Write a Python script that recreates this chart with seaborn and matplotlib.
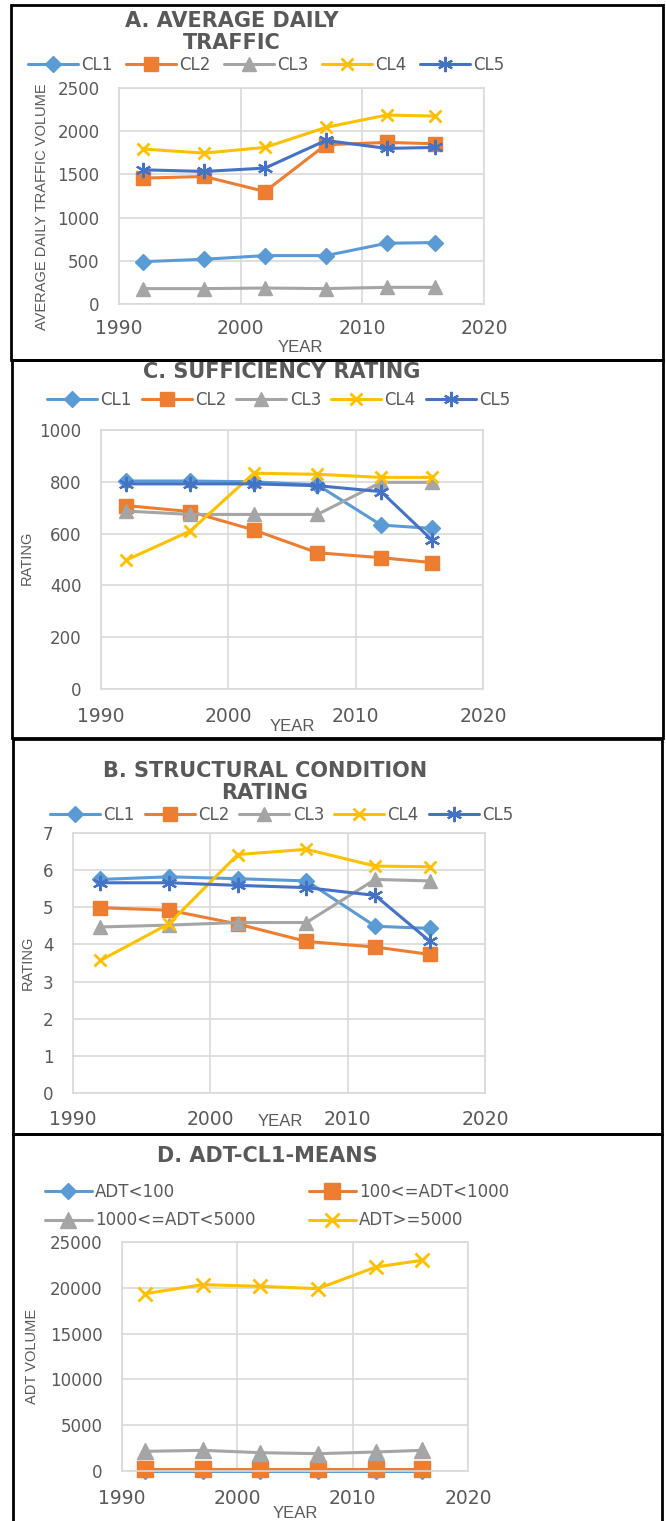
import matplotlib
matplotlib.use("Agg")
import matplotlib.pyplot as plt
from matplotlib import font_manager
from matplotlib.patches import Rectangle
import pandas as pd
import seaborn as sns

# ---------------------------------------------------------------- data
years = [1992, 1997, 2002, 2007, 2012, 2016]
classes = ["CL1", "CL2", "CL3", "CL4", "CL5"]

# A. average daily traffic by class
adt_cl1 = [490, 518, 560, 560, 703, 711]
adt_cl2 = [1457, 1476, 1302, 1843, 1870, 1855]
adt_cl3 = [178, 178, 185, 178, 193, 193]
adt_cl4 = [1793, 1747, 1812, 2044, 2187, 2175]
adt_cl5 = [1553, 1534, 1573, 1893, 1801, 1812]

# C. sufficiency rating by class
suff_cl1 = [803, 803, 800, 788, 633, 620]
suff_cl2 = [708, 685, 614, 526, 507, 488]
suff_cl3 = [687, 674, 674, 674, 798, 798]
suff_cl4 = [498, 610, 833, 829, 817, 817]
suff_cl5 = [792, 792, 792, 785, 762, 575]

# B. structural condition rating by class
struct_cl1 = [5.75, 5.82, 5.77, 5.71, 4.49, 4.43]
struct_cl2 = [4.99, 4.92, 4.55, 4.08, 3.93, 3.73]
struct_cl3 = [4.47, 4.52, 4.59, 4.59, 5.75, 5.71]
struct_cl4 = [3.57, 4.56, 6.42, 6.56, 6.11, 6.09]
struct_cl5 = [5.66, 5.66, 5.59, 5.53, 5.32, 4.08]

# D. CL1 mean ADT by traffic group
adt_groups = ["ADT<100", "100<=ADT<1000", "1000<=ADT<5000", "ADT>=5000"]
mean_lt100 = [40, 40, 40, 40, 40, 40]
mean_100_1000 = [230, 230, 230, 230, 230, 230]
mean_1000_5000 = [2147, 2256, 2001, 1892, 2074, 2256]
mean_ge5000 = [19359, 20342, 20160, 19905, 22271, 22998]

x_ticks = [1990, 2000, 2010, 2020]

# ---------------------------------------------------------------- style
W, H = 666, 1521
sns.set_theme(style="white")
plt.rcParams["font.family"] = ["DejaVu Sans"]

def has_font(name):
    try:
        font_manager.findfont(font_manager.FontProperties(family=name),
                              fallback_to_default=False)
        return True
    except Exception:
        return False

NARROW = "Liberation Sans Narrow" if has_font("Liberation Sans Narrow") else "Liberation Sans"
NARROW_SIZE = 11.5 if NARROW == "Liberation Sans Narrow" else 10.5

TXT = "#595959"
GRID = "#D9D9D9"
colors = ["#5B9BD5", "#ED7D31", "#A5A5A5", "#FFC000", "#4472C4"]
markers = ["D", "s", "^", "x", (6, 2, 0)]
msizes = [8, 10, 10, 9, 11]
mews = [1, 1, 1, 2, 1.6]

fig = plt.figure(figsize=(W / 100, H / 100), dpi=100)
fig.patch.set_facecolor("white")


def fig_xy(px, py):
    return px / W, 1 - py / H


def make_axes(left, top, right, bottom):
    return fig.add_axes([left / W, 1 - bottom / H, (right - left) / W, (bottom - top) / H])


def frame(left, top, right, bottom):
    fig.add_artist(Rectangle(fig_xy(left, bottom), (right - left) / W, (bottom - top) / H,
                             transform=fig.transFigure, fill=False, ec="black", lw=2.0,
                             zorder=10))


def style_axes(ax, ymax, ystep, ylabel, ylabel_xy, xlabel_xy, ypad, xpad):
    ax.set_xlim(1990, 2020)
    ax.set_ylim(0, ymax)
    ax.set_xticks(x_ticks)
    ax.set_xticklabels([str(t) for t in x_ticks])
    yt = [ystep * i for i in range(int(round(ymax / ystep)) + 1)]
    ax.set_yticks(yt)
    ax.set_yticklabels([f"{v:g}" for v in yt])
    ax.grid(True, color=GRID, lw=1.2)
    for s in ax.spines.values():
        s.set_color(GRID)
        s.set_linewidth(1.2)
    ax.tick_params(axis="both", length=0, colors=TXT, labelsize=12)
    ax.tick_params(axis="y", pad=ypad)
    ax.tick_params(axis="x", pad=xpad, labelsize=13.5)
    ax.set_ylabel(ylabel, family=NARROW, fontsize=NARROW_SIZE, color=TXT, va="center")
    ax.yaxis.set_label_coords(*fig_xy(*ylabel_xy), transform=fig.transFigure)
    ax.set_xlabel("YEAR", family=NARROW, fontsize=NARROW_SIZE + 1.5, color=TXT, va="center")
    ax.xaxis.set_label_coords(*fig_xy(*xlabel_xy), transform=fig.transFigure)
    ax.set_axisbelow(True)


def draw_series(ax, series_values, names, cols, mks, mss, mws, lw=2.2):
    for vals, name, c, m, ms, mw in zip(series_values, names, cols, mks, mss, mws):
        df = pd.DataFrame({"year": years, "value": vals})
        sns.lineplot(data=df, x="year", y="value", ax=ax, color=c, marker=m,
                     markersize=ms, markeredgewidth=mw, markeredgecolor=c,
                     linewidth=lw, label=name, legend=False, clip_on=False)


def title(ax, text, px, py):
    fig.text(*fig_xy(px, py), text, ha="center", va="center", fontsize=15,
             fontweight="bold", color=TXT, linespacing=1.15)


def legend(ax, px, py, ncol, colsp, labelsp=0.5, hl=3.0, order=None):
    h, l = ax.get_legend_handles_labels()
    if order is not None:
        h = [h[i] for i in order]
        l = [l[i] for i in order]
    ax.legend(h, l, loc="center left", bbox_to_anchor=fig_xy(px, py),
              bbox_transform=fig.transFigure, ncol=ncol, frameon=False,
              fontsize=12, handlelength=hl, handletextpad=0.2,
              columnspacing=colsp, labelspacing=labelsp, borderpad=0,
              borderaxespad=0, labelcolor=TXT)


# ---------------------------------------------------------------- panel A
frame(11, 5, 663, 360)
axA = make_axes(119, 88, 484, 304)
draw_series(axA, [adt_cl1, adt_cl2, adt_cl3, adt_cl4, adt_cl5], classes,
            colors, markers, msizes, mews)
style_axes(axA, 2500, 500, "AVERAGE DAILY TRAFFIC VOLUME", (42, 207), (300, 348), 14, 11)
title(axA, "A. AVERAGE DAILY\nTRAFFIC", 232, 32)
legend(axA, 28, 65, 5, 0.8)

# ---------------------------------------------------------------- panel C
frame(12, 360, 663, 738)
axC = make_axes(101, 430, 483, 689)
draw_series(axC, [suff_cl1, suff_cl2, suff_cl3, suff_cl4, suff_cl5], classes,
            colors, markers, msizes, mews)
style_axes(axC, 1000, 200, "RATING", (27, 558), (292, 727), 14, 13)
title(axC, "C. SUFFICIENCY RATING", 282, 372)
legend(axC, 47, 400, 5, 0.6)

# ---------------------------------------------------------------- panel B
frame(13, 739, 662, 1134)
axB = make_axes(73, 833, 485, 1093)
draw_series(axB, [struct_cl1, struct_cl2, struct_cl3, struct_cl4, struct_cl5], classes,
            colors, markers, msizes, mews)
style_axes(axB, 7, 1, "RATING", (28, 963), (280, 1122), 14, 12)
title(axB, "B. STRUCTURAL CONDITION\nRATING", 265, 782)
legend(axB, 50, 815, 5, 0.6)

# ---------------------------------------------------------------- panel D
frame(13, 1134, 662, 1530)
axD = make_axes(122, 1242, 468, 1471)
draw_series(axD, [mean_lt100, mean_100_1000, mean_1000_5000, mean_ge5000], adt_groups,
            colors[:4], markers[:4], [8, 12, 11, 10], [1, 1, 1, 2])
style_axes(axD, 25000, 5000, "ADT VOLUME", (32, 1356), (295, 1513), 14, 13)
title(axD, "D. ADT-CL1-MEANS", 267, 1156)
legend(axD, 45, 1206, 2, 3.2, labelsp=0.65, hl=2.8, order=[0, 2, 1, 3])

fig.savefig("out.png", dpi=100, facecolor="white")
